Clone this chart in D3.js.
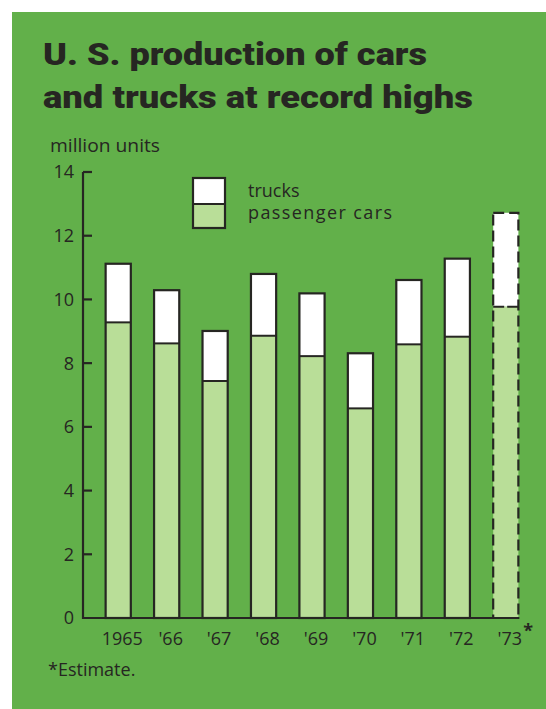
<!DOCTYPE html>
<html lang="en">
<head>
    <meta charset="UTF-8"/>
    <title>U. S. production of cars and trucks</title>
    <script src="https://cdnjs.cloudflare.com/ajax/libs/d3/7.8.5/d3.min.js"></script>
    <style>
        body { margin: 0; background: #fff; }
        svg text { fill: #262622; }
        .title { font-family: "Roboto", sans-serif; font-weight: 900; font-size: 31px; }
        .label { font-family: "Open Sans", sans-serif; font-size: 18px; }
    </style>
</head>
<body>
<div id="chart"></div>
<script>
    // Data
    const years = ["1965", "'66", "'67", "'68", "'69", "'70", "'71", "'72", "'73"];
    const cars = [9.28, 8.62, 7.44, 8.86, 8.22, 6.58, 8.59, 8.83, 9.77];
    const trucks = [1.84, 1.67, 1.57, 1.94, 1.97, 1.73, 2.02, 2.45, 2.95];
    const estimated = [false, false, false, false, false, false, false, false, true];
    const yTicks = [0, 2, 4, 6, 8, 10, 12, 14];

    const width = 546;
    const height = 709;
    const ink = "#262622";
    const bg = "#62b04a";
    const carFill = "#b9de98";

    const svg = d3.select("#chart")
        .append("svg")
        .attr("width", width)
        .attr("height", height);

    // Green panel
    svg.append("rect")
        .attr("x", 12)
        .attr("y", 12)
        .attr("width", width - 12)
        .attr("height", height - 12)
        .attr("fill", bg);

    // Title
    svg.append("text").attr("class", "title")
        .attr("x", 43).attr("y", 65)
        .attr("textLength", 384).attr("lengthAdjust", "spacingAndGlyphs")
        .text("U. S. production of cars");
    svg.append("text").attr("class", "title")
        .attr("x", 43).attr("y", 108)
        .attr("textLength", 430).attr("lengthAdjust", "spacingAndGlyphs")
        .text("and trucks at record highs");

    // Scales
    const x = d3.scaleBand()
        .domain(years)
        .range([94, 530])
        .paddingInner(0.48)
        .paddingOuter(0.24);

    const y = d3.scaleLinear()
        .domain([0, 14])
        .range([618, 172]);

    const axisLeft = 83;
    const axisRight = x(years[years.length - 1]) + x.bandwidth() + 1;

    // Unit label
    svg.append("text").attr("class", "label")
        .attr("x", 50).attr("y", 152)
        .attr("textLength", 110).attr("lengthAdjust", "spacingAndGlyphs")
        .text("million units");

    // Bars
    const rows = years.map((yr, i) => ({year: yr, cars: cars[i], trucks: trucks[i], est: estimated[i]}));

    const bars = svg.append("g")
        .selectAll("g")
        .data(rows)
        .enter()
        .append("g");

    bars.append("rect")
        .attr("x", d => x(d.year))
        .attr("y", d => y(d.cars + d.trucks))
        .attr("width", x.bandwidth())
        .attr("height", d => y(d.cars) - y(d.cars + d.trucks))
        .attr("fill", "#fff");

    bars.append("rect")
        .attr("x", d => x(d.year))
        .attr("y", d => y(d.cars))
        .attr("width", x.bandwidth())
        .attr("height", d => y(0) - y(d.cars))
        .attr("fill", carFill);

    // Outlines
    bars.append("rect")
        .attr("x", d => x(d.year))
        .attr("y", d => y(d.cars + d.trucks))
        .attr("width", x.bandwidth())
        .attr("height", d => y(0) - y(d.cars + d.trucks))
        .attr("fill", "none")
        .attr("stroke", ink)
        .attr("stroke-width", 2.2)
        .attr("stroke-dasharray", d => d.est ? "11,5" : null);

    bars.append("line")
        .attr("x1", d => x(d.year))
        .attr("x2", d => x(d.year) + x.bandwidth())
        .attr("y1", d => y(d.cars))
        .attr("y2", d => y(d.cars))
        .attr("stroke", ink)
        .attr("stroke-width", 2)
        .attr("stroke-dasharray", d => d.est ? "11,3" : null);

    // Axes
    const axis = svg.append("g").attr("stroke", ink).attr("stroke-width", 2.2);
    axis.append("line")
        .attr("x1", axisLeft).attr("x2", axisLeft)
        .attr("y1", y(14)).attr("y2", y(0) + 1);
    axis.append("line")
        .attr("x1", axisLeft - 1).attr("x2", axisRight)
        .attr("y1", y(0)).attr("y2", y(0));

    axis.selectAll(".tick")
        .data(yTicks.filter(d => d > 0))
        .enter()
        .append("line")
        .attr("x1", axisLeft)
        .attr("x2", axisLeft + 9)
        .attr("y1", d => y(d))
        .attr("y2", d => y(d));

    svg.append("g")
        .selectAll("text")
        .data(yTicks)
        .enter()
        .append("text")
        .attr("class", "label")
        .attr("x", 74)
        .attr("y", d => y(d))
        .attr("dy", "0.36em")
        .attr("text-anchor", "end")
        .attr("font-size", 19)
        .text(d => d);

    // X labels
    svg.append("g")
        .selectAll("text")
        .data(years)
        .enter()
        .append("text")
        .attr("class", "label")
        .attr("x", d => x(d) + x.bandwidth() / 2 + 4)
        .attr("y", 645)
        .attr("text-anchor", "middle")
        .attr("font-size", 19)
        .text(d => d);

    svg.append("text").attr("class", "label")
        .attr("x", x("'73") + x.bandwidth() + 5)
        .attr("y", 637)
        .attr("font-size", 22)
        .attr("font-weight", "bold")
        .text("*");

    // Legend
    const legend = svg.append("g");
    legend.append("rect")
        .attr("x", 193).attr("y", 178)
        .attr("width", 32).attr("height", 26)
        .attr("fill", "#fff");
    legend.append("rect")
        .attr("x", 193).attr("y", 204)
        .attr("width", 32).attr("height", 24)
        .attr("fill", carFill);
    legend.append("rect")
        .attr("x", 193).attr("y", 178)
        .attr("width", 32).attr("height", 50)
        .attr("fill", "none")
        .attr("stroke", ink)
        .attr("stroke-width", 2.2);
    legend.append("line")
        .attr("x1", 193).attr("x2", 225)
        .attr("y1", 204).attr("y2", 204)
        .attr("stroke", ink)
        .attr("stroke-width", 2);

    legend.append("text").attr("class", "label")
        .attr("x", 248).attr("y", 197)
        .text("trucks");
    legend.append("text").attr("class", "label")
        .attr("x", 248).attr("y", 219)
        .attr("textLength", 144).attr("lengthAdjust", "spacing")
        .text("passenger cars");

    // Footnote
    svg.append("text").attr("class", "label")
        .attr("x", 48).attr("y", 676)
        .attr("font-size", 17)
        .text("*Estimate.");
</script>
</body>
</html>
